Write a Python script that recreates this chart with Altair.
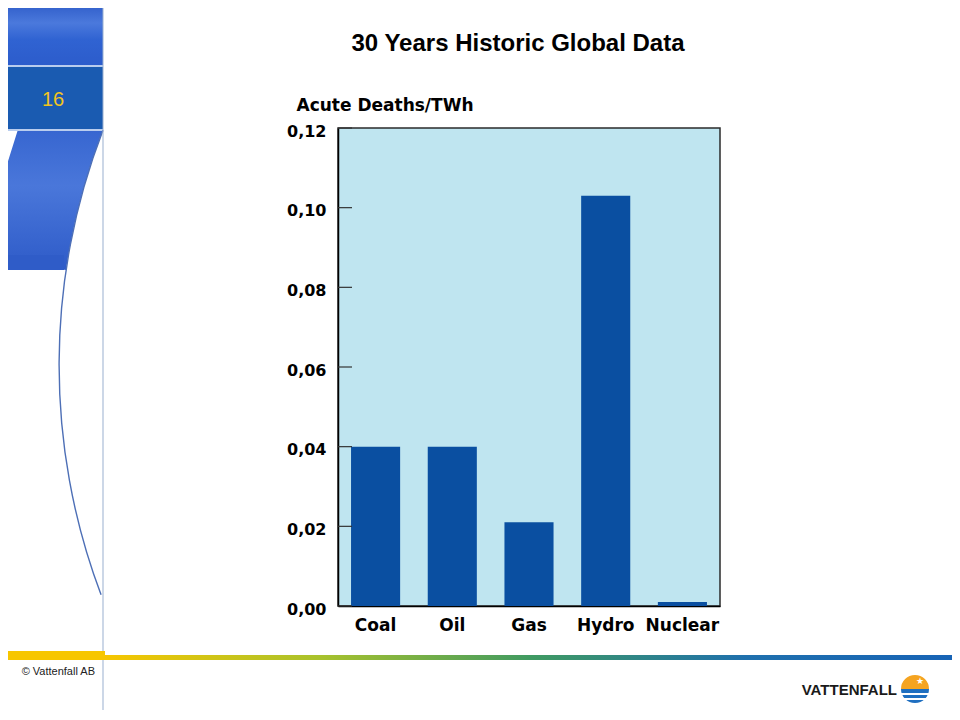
import altair as alt
import pandas as pd

# ---- data ----
sources = ["Coal", "Oil", "Gas", "Hydro", "Nuclear"]
deaths_per_twh = [0.040, 0.040, 0.021, 0.103, 0.001]
y_ticks = [0.00, 0.02, 0.04, 0.06, 0.08, 0.10, 0.12]

title_text = "30 Years Historic Global Data"
axis_title = "Acute Deaths/TWh"
page_number = "16"
footer_text = "© Vattenfall AB"
logo_text = "VATTENFALL"

df = pd.DataFrame({"source": sources, "value": deaths_per_twh})
tick_df = pd.DataFrame({"value": y_ticks})

# ---- layout (plot area placed on the page) ----
W, H = 382, 478
PX, PY = 338, 128          # page position of plot origin
SVG_W, SVG_H = 944, 702


def px(x):
    return x - PX


def py(y):
    return y - PY


ONE = alt.Data(values=[{"k": 1}])


def rect(x1, x2, y1, y2, fill):
    return alt.Chart(ONE).mark_rect(fill=fill, strokeWidth=0).encode(
        x=alt.value(px(x1)), x2=alt.value(px(x2)),
        y=alt.value(py(y1)), y2=alt.value(py(y2)))


def text(x, y, s, **kw):
    return alt.Chart(ONE).mark_text(text=s, **kw).encode(
        x=alt.value(px(x)), y=alt.value(py(y)))


def arc(cx, cy, r_out, r_in, t1, t2, fill):
    return alt.Chart(ONE).mark_arc(radius=r_out, radius2=r_in, theta=t1, theta2=t2,
                                   fill=fill, strokeWidth=0).encode(
        x=alt.value(px(cx)), y=alt.value(py(cy)))


panel_grad = {"gradient": "linear", "x1": 0, "y1": 0, "x2": 0, "y2": 1,
              "stops": [{"offset": 0, "color": "#2a58c6"},
                        {"offset": 0.35, "color": "#4b79dc"},
                        {"offset": 0.6, "color": "#3063d2"},
                        {"offset": 1, "color": "#2c5ccb"}]}
curve_grad = {"gradient": "linear", "x1": 0, "y1": 0, "x2": 0, "y2": 1,
              "stops": [{"offset": 0, "color": "#2d5dcb"},
                        {"offset": 0.5, "color": "#4a77da"},
                        {"offset": 1, "color": "#2e5bc8"}]}
line_grad = {"gradient": "linear", "x1": 0, "y1": 0, "x2": 1, "y2": 0,
             "stops": [{"offset": 0, "color": "#f7c600"},
                       {"offset": 0.25, "color": "#a9c22c"},
                       {"offset": 0.5, "color": "#3f9a62"},
                       {"offset": 0.75, "color": "#1f70ad"},
                       {"offset": 1, "color": "#1763b6"}]}

CX, CY = 709, 365  # centre of the decorative arc (page coords)

decor = [
    # curved blue panel part
    arc(CX, CY, 730, 650, 4.859, 5.082, curve_grad),
    rect(0, 64, 255, 270, "#2f5cc8"),
    # top panel
    rect(3, 103, 0, 66, panel_grad),
    # page number box
    rect(3, 103, 66, 130, "#1a5bb1"),
    rect(3, 103, 65, 67, "#b9cdee"),
    rect(3, 103, 129, 131, "#b9cdee"),
    text(53, 100, page_number, fontSize=20, font="Liberation Sans", color="#f2c41c"),
    # thin arc line
    arc(CX, CY, 650.6, 649.2, 4.351, 5.082, "#4d6fb6"),
    # thin vertical line
    rect(102.5, 103.5, 0, 720, "#9ab0cf"),
    # footer bars
    rect(3, 105, 651, 660, "#f7c600"),
    rect(105, 960, 655, 660, line_grad),
    text(95, 672, footer_text, fontSize=11, font="Liberation Sans", color="#222222",
         align="right", baseline="middle"),
    # logo
    text(897, 690, logo_text, fontSize=15, font="Liberation Sans", fontWeight="bold",
         color="#1a1a1a", align="right", baseline="middle"),
    arc(915, 689, 14, 0, 4.712, 7.854, "#f5a421"),
    arc(915, 689, 14, 0, 1.571, 4.712, "#1f6fc0"),
    rect(900, 930, 693, 695, "#ffffff"),
    rect(900, 930, 698, 700, "#ffffff"),
    text(920, 681, "★", fontSize=9, color="#ffffff"),
    # slide title
    text(518, 51, title_text, fontSize=24, font="Liberation Sans",
         fontWeight="bold", color="#000000", baseline="alphabetic"),
]

y_axis = alt.Axis(values=y_ticks, ticks=False, grid=False,
                  labelExpr="replace(format(datum.value, '.2f'), '.', ',')",
                  labelFont="DejaVu Sans", labelFontWeight="bold", labelFontSize=16,
                  labelColor="#000000", labelPadding=12, labelOffset=3,
                  labelBaseline="middle", domainColor="#000000", domainWidth=1.5,
                  title=axis_title, titleAngle=0, titleX=-42, titleY=-23,
                  titleAlign="left", titleBaseline="middle",
                  titleFont="DejaVu Sans", titleFontWeight="bold",
                  titleFontSize=17, titleColor="#000000")

y_enc = alt.Y("value:Q", scale=alt.Scale(domain=[0, 0.12], nice=False), axis=y_axis)

bars = alt.Chart(df).mark_bar(color="#0a4fa1").encode(
    x=alt.X("source:N", sort=sources,
            scale=alt.Scale(paddingInner=0.36, paddingOuter=0.17),
            axis=alt.Axis(title=None, labelAngle=0, ticks=False, domainColor="#000000",
                          domainWidth=1.5, labelFont="DejaVu Sans", labelFontWeight="bold",
                          labelFontSize=17, labelColor="#000000", labelPadding=11)),
    y=y_enc,
)

inner_ticks = alt.Chart(tick_df).mark_rule(color="#333333", strokeWidth=1.2).encode(
    y=y_enc,
    x=alt.value(0), x2=alt.value(14),
)

chart = alt.layer(*decor, bars, inner_ticks).properties(
    width=W, height=H,
    padding={"left": PX - 8, "top": PY - 8,
             "right": SVG_W - (PX - 8) - W, "bottom": SVG_H - (PY - 8) - H},
    autosize=alt.AutoSizeParams(type="none"),
    background="white",
).configure_view(fill="#bfe5f0", stroke="#2b2b2b", strokeWidth=1.5)

chart.save("out.html", embed_options={"renderer": "svg", "actions": False})
